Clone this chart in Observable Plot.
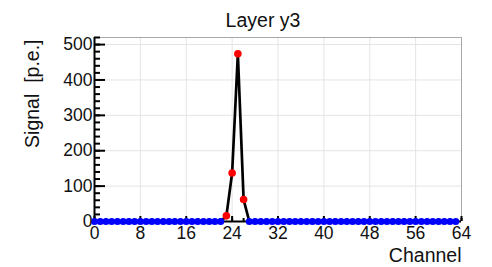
<!DOCTYPE html>
<html>
<head>
<meta charset="utf-8">
<script src="https://cdn.jsdelivr.net/npm/d3@7"></script>
<script src="https://cdn.jsdelivr.net/npm/@observablehq/plot@0.6"></script>
<style>
  html, body { margin: 0; padding: 0; background: #fff; }
</style>
</head>
<body>
<div id="chart"></div>
<script>
const titleText = "Layer y3";
const xLabel = "Channel";
const yLabel = "Signal\u00a0\u00a0[p.e.]";
const channels = d3.range(64);
const signal = [
  0, 0, 0, 0, 0, 0, 0, 0,
  0, 0, 0, 0, 0, 0, 0, 0,
  0, 0, 0, 0, 0, 0, 0, 16,
  137, 474, 62, 0, 0, 0, 0, 0,
  0, 0, 0, 0, 0, 0, 0, 0,
  0, 0, 0, 0, 0, 0, 0, 0,
  0, 0, 0, 0, 0, 0, 0, 0,
  0, 0, 0, 0, 0, 0, 0, 0
];
const xTicks = [0, 8, 16, 24, 32, 40, 48, 56, 64];
const xMinorTicks = d3.range(0, 65, 2);
const yTicks = [0, 100, 200, 300, 400, 500];
const yMinorTicks = d3.range(0, 521, 20);
const xDomain = [0, 64];
const yDomain = [0, 520];

const data = channels.map((c, i) => ({channel: c, value: signal[i], hit: signal[i] > 0}));

const W = 492, H = 267;
const mL = 94, mR = 31, mT = 37, mB = 46;
const pw = W - mL - mR, ph = H - mT - mB;
const font = "'Liberation Sans', Arial, Helvetica, sans-serif";

const chart = Plot.plot({
  width: W,
  height: H,
  marginLeft: mL,
  marginRight: mR,
  marginTop: mT,
  marginBottom: mB,
  style: {fontFamily: font, fontSize: "17.5px", background: "#fff", color: "#000", overflow: "visible"},
  x: {domain: xDomain, axis: null},
  y: {domain: yDomain, axis: null},
  marks: [
    Plot.ruleX(xTicks, {stroke: "#e4e4e4", strokeWidth: 1}),
    Plot.ruleY(yTicks.filter(d => d > 0), {stroke: "#e4e4e4", strokeWidth: 1}),
    Plot.ruleY([yDomain[1]], {stroke: "#a8a8a8", strokeWidth: 1}),
    Plot.ruleX([xDomain[1]], {stroke: "#a8a8a8", strokeWidth: 1}),
    Plot.ruleY(yMinorTicks, {stroke: "#000", strokeWidth: 2, insetRight: pw - 6}),
    Plot.ruleY(yTicks, {stroke: "#000", strokeWidth: 2, insetRight: pw - 11}),
    Plot.ruleX(xMinorTicks, {stroke: "#000", strokeWidth: 2, insetTop: ph - 3}),
    Plot.ruleX(xTicks, {stroke: "#000", strokeWidth: 2, insetTop: ph - 5}),
    Plot.ruleX([xDomain[0]], {stroke: "#000", strokeWidth: 2}),
    Plot.ruleY([yDomain[0]], {stroke: "#000", strokeWidth: 2}),
    Plot.line(data, {x: "channel", y: "value", stroke: "#000", strokeWidth: 2.7}),
    Plot.dot(data.filter(d => !d.hit), {x: "channel", y: "value", r: 3.6, fill: "#0000ff", stroke: "none"}),
    Plot.dot(data.filter(d => d.hit), {x: "channel", y: "value", r: 3.8, fill: "#ff0000", stroke: "none"}),
    Plot.axisY(yTicks, {anchor: "left", tickSize: 0, tickPadding: 2, label: null, fontSize: 17.5, fill: "#111"}),
    Plot.axisX(xTicks, {anchor: "bottom", tickSize: 0, tickPadding: 5, label: null, fontSize: 17.5, fill: "#111"}),
    Plot.text([titleText], {frameAnchor: "top", dx: -15, dy: -11, lineAnchor: "bottom", textAnchor: "middle", fontSize: 19.5, fill: "#111"}),
    Plot.text([xLabel], {frameAnchor: "bottom-right", dy: 40, lineAnchor: "bottom", textAnchor: "end", fontSize: 19.5, fill: "#111"}),
    Plot.text([yLabel], {frameAnchor: "top-left", dx: -56, dy: 2, rotate: -90, lineAnchor: "bottom", textAnchor: "end", fontSize: 19.5, fill: "#111"})
  ]
});
document.getElementById("chart").appendChild(chart);
</script>
</body>
</html>
